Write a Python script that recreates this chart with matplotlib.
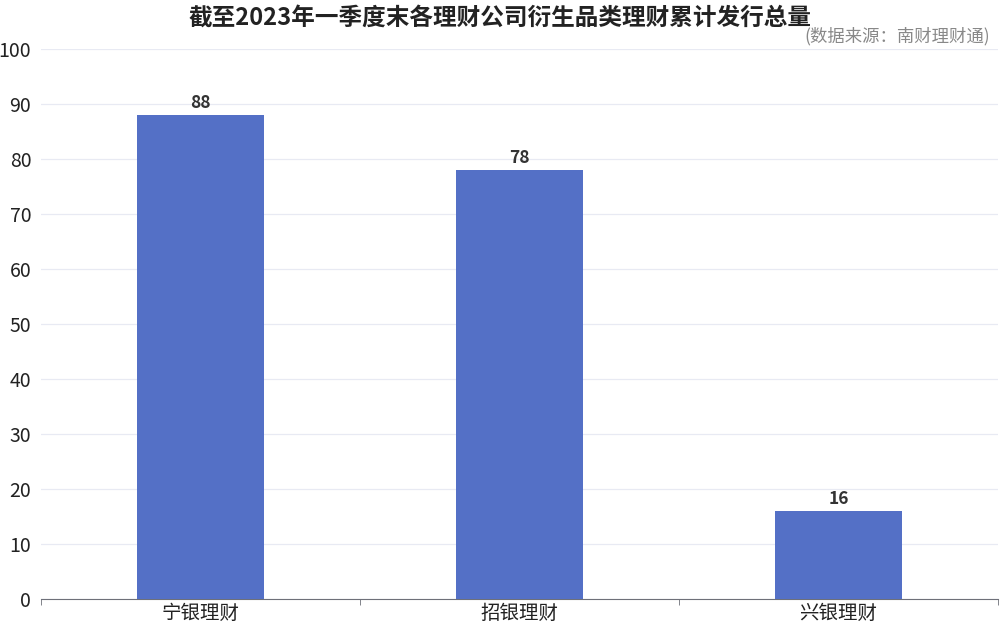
import numpy as np
import matplotlib
matplotlib.use('Agg')
import matplotlib.pyplot as plt
from matplotlib.ticker import FixedLocator

plt.rcParams['font.family'] = ['Noto Sans CJK SC', 'DejaVu Sans']

# 数据
companies = ['宁银理财', '招银理财', '兴银理财']
totals = [88, 78, 16]
title = '截至2023年一季度末各理财公司衍生品类理财累计发行总量'
source = '(数据来源：南财理财通)'

fig = plt.figure(figsize=(10, 6.27), dpi=100)
ax = fig.add_axes([0.041, 0.0447, 0.957, 0.8772])

x = np.arange(len(companies))
bars = ax.bar(x, totals, width=0.4, color='#5470c6', zorder=3)
for b, v in zip(bars, totals):
    ax.text(b.get_x() + b.get_width() / 2, v + 0.6, str(v), ha='center', va='bottom',
            fontsize=12.5, fontweight='bold', color='#333333')

ax.set_xlim(-0.5, len(companies) - 0.5)
ax.set_ylim(0, 100)
ax.set_yticks(np.arange(0, 101, 10))
ax.set_xticks(x)
ax.set_xticklabels(companies, fontsize=14, color='#222222')
ax.xaxis.set_minor_locator(FixedLocator(np.arange(-0.5, len(companies), 1)))
ax.tick_params(axis='x', which='major', length=0, pad=3)
ax.tick_params(axis='x', which='minor', length=4, color='#6e7079')
ax.tick_params(axis='y', length=0, labelsize=14, labelcolor='#222222', pad=7)
ax.grid(axis='y', color='#e8eaf3', linewidth=0.9, zorder=0)
for s in ['top', 'right', 'left']:
    ax.spines[s].set_visible(False)
ax.spines['bottom'].set_color('#6e7079')

fig.text(0.5, 0.972, title, ha='center', va='center', fontsize=17, fontweight='bold', color='#222222')
fig.text(0.99, 0.943, source, ha='right', va='center', fontsize=12.5, color='#888888')

fig.savefig('out.png', dpi=100)
